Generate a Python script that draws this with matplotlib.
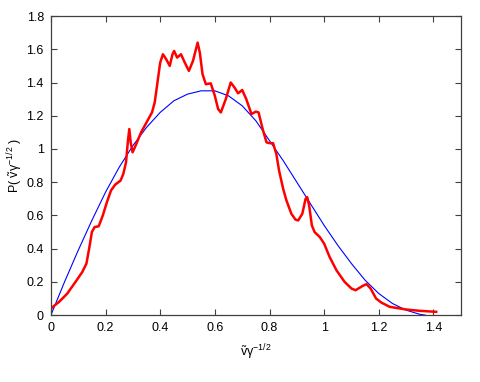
import matplotlib
matplotlib.use('Agg')
import matplotlib.pyplot as plt

plt.rcParams['font.family'] = ['Liberation Sans', 'DejaVu Sans']
plt.rcParams['mathtext.fontset'] = 'custom'
plt.rcParams['mathtext.rm'] = 'Liberation Sans'
plt.rcParams['mathtext.it'] = 'Liberation Sans'

# ---------- 数据 ----------
# 实测分布（红线）
red_x = [0.0, 0.03, 0.06, 0.09, 0.115, 0.13, 0.14, 0.15, 0.16, 0.175, 0.19,
         0.205, 0.22, 0.235, 0.255, 0.265, 0.275, 0.282, 0.287, 0.292, 0.299,
         0.31, 0.33, 0.35, 0.37, 0.38, 0.39, 0.40, 0.41, 0.422, 0.435, 0.445,
         0.451, 0.462, 0.476, 0.49, 0.505, 0.52, 0.537, 0.545, 0.555, 0.567,
         0.585, 0.60, 0.612, 0.622, 0.64, 0.658, 0.672, 0.685, 0.70, 0.715,
         0.734, 0.75, 0.76, 0.775, 0.789, 0.80, 0.813, 0.825, 0.835, 0.85,
         0.862, 0.88, 0.895, 0.905, 0.92, 0.932, 0.938, 0.945, 0.955, 0.965,
         0.984, 1.0, 1.02, 1.045, 1.075, 1.1, 1.115, 1.14, 1.155, 1.17, 1.19,
         1.21, 1.24, 1.30, 1.35, 1.41]
red_y = [0.04, 0.08, 0.13, 0.20, 0.26, 0.31, 0.40, 0.50, 0.53, 0.535, 0.60,
         0.68, 0.75, 0.785, 0.81, 0.85, 0.92, 1.05, 1.12, 1.04, 0.98,
         1.02, 1.10, 1.16, 1.22, 1.28, 1.40, 1.52, 1.57, 1.54, 1.50, 1.57,
         1.59, 1.55, 1.57, 1.52, 1.47, 1.53, 1.64, 1.58, 1.45, 1.39,
         1.395, 1.32, 1.24, 1.22, 1.30, 1.40, 1.37, 1.335, 1.355, 1.30,
         1.21, 1.225, 1.22, 1.12, 1.04, 1.035, 1.035, 0.97, 0.87, 0.76,
         0.69, 0.61, 0.575, 0.57, 0.61, 0.70, 0.71, 0.66, 0.54, 0.50,
         0.47, 0.43, 0.35, 0.27, 0.20, 0.16, 0.15, 0.175, 0.187, 0.16, 0.10,
         0.075, 0.05, 0.034, 0.026, 0.02]

# 拟合曲线（蓝线）
blue_x = [0.0, 0.05, 0.1, 0.15, 0.2, 0.25, 0.3, 0.35, 0.4, 0.45, 0.5, 0.55,
          0.6, 0.65, 0.7, 0.75, 0.8, 0.85, 0.9, 0.95, 1.0, 1.05, 1.1, 1.15,
          1.2, 1.25, 1.3, 1.35, 1.37]
blue_y = [0.0, 0.2, 0.39, 0.57, 0.74, 0.89, 1.02, 1.13, 1.22, 1.29, 1.33, 1.35,
          1.35, 1.32, 1.26, 1.17, 1.05, 0.93, 0.80, 0.67, 0.54, 0.42, 0.31, 0.21,
          0.13, 0.07, 0.03, 0.005, 0.0]

x_ticks = [0, 0.2, 0.4, 0.6, 0.8, 1, 1.2, 1.4]
x_tick_labels = ['0', '0.2', '0.4', '0.6', '0.8', '1', '1.2', '1.4']
y_ticks = [0, 0.2, 0.4, 0.6, 0.8, 1, 1.2, 1.4, 1.6, 1.8]
y_tick_labels = ['0', '0.2', '0.4', '0.6', '0.8', '1', '1.2', '1.4', '1.6', '1.8']

# ---------- 绘图 ----------
fig = plt.figure(figsize=(4.8, 3.82), dpi=100)
ax = fig.add_axes([0.106, 0.175, 0.854, 0.783])

ax.plot(blue_x, blue_y, color='#0000ff', lw=0.8)
ax.plot(red_x, red_y, color='#ff0000', lw=1.8)

ax.set_xlim(0, 1.5)
ax.set_ylim(0, 1.8)
ax.set_xticks(x_ticks)
ax.set_xticklabels(x_tick_labels)
ax.set_yticks(y_ticks)
ax.set_yticklabels(y_tick_labels)
ax.tick_params(direction='in', length=4, width=0.8, color='#404040',
               labelsize=9, top=True, right=True, pad=5)
for s in ax.spines.values():
    s.set_color('#404040')
    s.set_linewidth(0.9)

lbl = r'$\tilde{\mathrm{v}}\mathrm{\gamma}^{-1/2}$'
ax.set_xlabel(lbl, fontsize=9, labelpad=6)
ax.set_ylabel(r'P( ' + lbl + ' )', fontsize=9, labelpad=1)

fig.savefig('out.png', dpi=100)
